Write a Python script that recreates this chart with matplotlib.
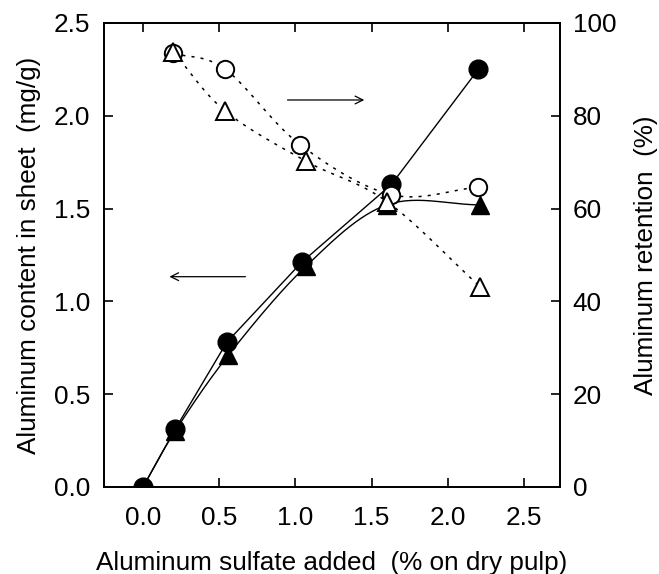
import numpy as np
import matplotlib
matplotlib.use("Agg")
import matplotlib.pyplot as plt

plt.rcParams['font.family'] = ['Liberation Sans', 'DejaVu Sans']

# aluminum content in sheet (mg/g), left axis
x_fc = [0.0, 0.21, 0.55, 1.04, 1.63, 2.20]
y_fc = [0.0, 0.31, 0.78, 1.21, 1.63, 2.25]
x_ft = [0.0, 0.21, 0.56, 1.07, 1.60, 2.21]
y_ft = [0.0, 0.30, 0.71, 1.19, 1.52, 1.52]

# aluminum retention (%), right axis
x_oc = [0.20, 0.54, 1.03, 1.63, 2.20]
y_oc = [93.5, 90.0, 73.8, 63.0, 64.6]
x_ot = [0.20, 0.54, 1.07, 1.60, 2.21]
y_ot = [93.7, 81.0, 70.2, 61.5, 43.2]


def smooth(xs, ys, n=30):
    # catmull-rom curve through the points, just for drawing
    p = np.column_stack([xs, ys]).astype(float)
    p = np.vstack([2 * p[0] - p[1], p, 2 * p[-1] - p[-2]])
    out = []
    t = np.linspace(0, 1, n)[:, None]
    for i in range(1, len(p) - 2):
        p0, p1, p2, p3 = p[i - 1], p[i], p[i + 1], p[i + 2]
        seg = 0.5 * ((2 * p1) + (-p0 + p2) * t + (2 * p0 - 5 * p1 + 4 * p2 - p3) * t ** 2
                     + (-p0 + 3 * p1 - 3 * p2 + p3) * t ** 3)
        out.append(seg)
    out = np.vstack(out)
    return out[:, 0], out[:, 1]


fig = plt.figure(figsize=(6.59, 5.74), dpi=100)
ax = fig.add_axes([0.1578, 0.1516, 0.692, 0.8084])
ax2 = ax.twinx()

dots = (0, (2, 4))
ax2.plot(*smooth(x_oc, y_oc), color='black', lw=1.1, ls=dots)
ax2.plot(*smooth(x_ot, y_ot), color='black', lw=1.1, ls=dots)
ax2.plot(x_oc, y_oc, 'o', ms=12.5, mfc='white', mec='black', mew=1.4, ls='none')
ax2.plot(x_ot, y_ot, '^', ms=13, mfc='white', mec='black', mew=1.4, ls='none')

ax.plot(x_fc, y_fc, color='black', lw=1.0)
ax.plot(*smooth(x_ft, y_ft), color='black', lw=1.0)
ax.plot(x_ft, y_ft, '^', ms=13, color='black', ls='none')
ax.plot(x_fc, y_fc, 'o', ms=13.5, color='black', ls='none')

ax.annotate('', xy=(1.47, 2.085), xytext=(0.93, 2.085),
            arrowprops=dict(arrowstyle='->', lw=0.9, color='black',
                            mutation_scale=14))
ax.annotate('', xy=(0.155, 1.133), xytext=(0.69, 1.133),
            arrowprops=dict(arrowstyle='->', lw=0.9, color='black',
                            mutation_scale=14))

ax.set_xlim(-0.256, 2.736)
ax.set_ylim(0, 2.5)
ax2.set_ylim(0, 100)
ax.set_xticks([0, 0.5, 1.0, 1.5, 2.0, 2.5])
ax.set_xticklabels(['0.0', '0.5', '1.0', '1.5', '2.0', '2.5'])
ax.set_yticks([0, 0.5, 1.0, 1.5, 2.0, 2.5])
ax.set_yticklabels(['0.0', '0.5', '1.0', '1.5', '2.0', '2.5'])
ax2.set_yticks([0, 20, 40, 60, 80, 100])

fs = 18.8
ax.tick_params(axis='x', direction='in', top=True, length=6.5, width=1.2,
               labelsize=fs, pad=14)
ax.tick_params(axis='y', direction='in', length=6.5, width=1.2,
               labelsize=fs, pad=10)
ax2.tick_params(axis='y', direction='in', length=6.5, width=1.2,
                labelsize=fs, pad=9)
for a in (ax, ax2):
    for s in a.spines.values():
        s.set_linewidth(1.3)

ax.set_xlabel('Aluminum sulfate added  (% on dry pulp)', fontsize=fs, labelpad=15)
ax.set_ylabel('Aluminum content in sheet  (mg/g)', fontsize=fs, labelpad=9)
ax2.set_ylabel('Aluminum retention  (%)', fontsize=fs, labelpad=13)

fig.savefig('out.png', dpi=100)
